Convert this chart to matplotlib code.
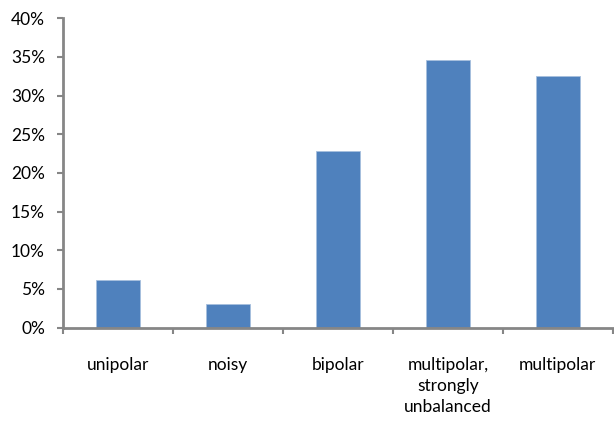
import matplotlib
matplotlib.use('Agg')
import matplotlib.pyplot as plt
from matplotlib.ticker import FuncFormatter, FixedLocator

categories = ['unipolar', 'noisy', 'bipolar', 'multipolar,\nstrongly\nunbalanced', 'multipolar']
shares = [6.1, 3.1, 22.9, 34.6, 32.6]
yticks = [0, 5, 10, 15, 20, 25, 30, 35, 40]

BAR = '#4f81bd'
AXIS = '#868686'
TEXT = '#000000'

plt.rcParams['font.family'] = ['Lato', 'DejaVu Sans']

fig = plt.figure(figsize=(6.14, 4.21), dpi=100)
ax = fig.add_axes([0.1026, 0.222, 0.8954, 0.7345])

x = list(range(len(categories)))
ax.bar(x, shares, width=0.4, color=BAR, edgecolor='#a7bfde', linewidth=0.6, zorder=2)

ax.set_ylim(0, 40)
ax.set_xlim(-0.5, len(categories) - 0.5)
ax.set_yticks(yticks)
ax.yaxis.set_major_formatter(FuncFormatter(lambda v, _: '%d%%' % v))

# boundary ticks between categories, labels centred under bars
ax.xaxis.set_major_locator(FixedLocator([i - 0.5 for i in range(len(categories) + 1)]))
ax.xaxis.set_minor_locator(FixedLocator(x))
ax.set_xticklabels([], minor=False)
ax.set_xticklabels(categories, minor=True)
ax.tick_params(axis='x', which='major', direction='out', length=4, width=1.5, color=AXIS)
ax.tick_params(axis='x', which='minor', length=0, pad=21, labelsize=12.5, colors=TEXT)
for lab in ax.get_xticklabels(minor=True):
    lab.set_verticalalignment('top')
    lab.set_linespacing(1.38)
ax.tick_params(axis='y', direction='out', length=4, width=1.5, color=AXIS,
               pad=9, labelsize=12.5, labelcolor=TEXT)

for s in ('top', 'right'):
    ax.spines[s].set_visible(False)
for s in ('left', 'bottom'):
    ax.spines[s].set_color(AXIS)
    ax.spines[s].set_linewidth(2)

fig.savefig('out.png', dpi=100)
